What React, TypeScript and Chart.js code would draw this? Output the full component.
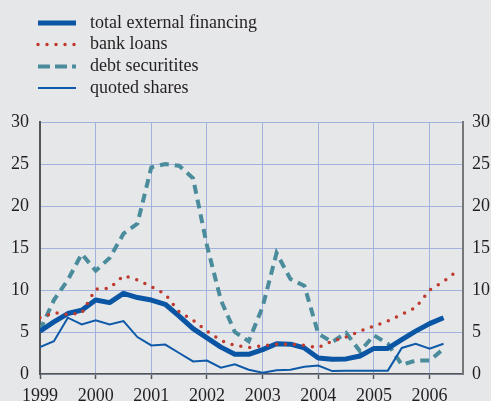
import React, { useEffect, useRef } from "react";
import { Chart, registerables } from "chart.js";

Chart.register(...registerables);

const quarters = [
  "1999Q1", "1999Q2", "1999Q3", "1999Q4",
  "2000Q1", "2000Q2", "2000Q3", "2000Q4",
  "2001Q1", "2001Q2", "2001Q3", "2001Q4",
  "2002Q1", "2002Q2", "2002Q3", "2002Q4",
  "2003Q1", "2003Q2", "2003Q3", "2003Q4",
  "2004Q1", "2004Q2", "2004Q3", "2004Q4",
  "2005Q1", "2005Q2", "2005Q3", "2005Q4",
  "2006Q1", "2006Q2", "2006Q3",
];

const totalExternal = [5.1, 6.2, 7.2, 7.6, 8.8, 8.5, 9.6, 9.1, 8.8, 8.3, 6.9, 5.4, 4.3, 3.2, 2.35, 2.35, 2.9, 3.6, 3.55, 3.1, 1.9, 1.75, 1.8, 2.15, 3.05, 3.05, 4.1, 5.1, 6.0, 6.7];
const bankLoans = [6.7, 7.3, 7.1, 7.25, 10.1, 10.2, 11.7, 11.2, 10.4, 9.5, 7.4, 6.4, 5.1, 4.0, 3.4, 3.15, 3.35, 3.55, 3.55, 3.4, 3.15, 3.9, 4.4, 5.1, 5.7, 6.3, 7.1, 7.9, 10.0, 11.0, 12.3];
const debtSecurities = [5.2, 8.8, 11.2, 14.3, 12.3, 13.8, 16.7, 17.9, 24.6, 25.0, 24.8, 23.3, 15.3, 8.8, 5.0, 3.9, 8.0, 14.4, 11.3, 10.5, 4.8, 3.8, 4.9, 2.7, 4.6, 3.6, 1.1, 1.6, 1.6, 3.0];
const quotedShares = [3.2, 3.9, 6.7, 5.9, 6.4, 5.9, 6.3, 4.4, 3.4, 3.5, 2.5, 1.5, 1.6, 0.75, 1.15, 0.5, 0.15, 0.45, 0.5, 0.85, 1.0, 0.35, 0.4, 0.4, 0.4, 0.4, 3.1, 3.6, 3.0, 3.6];

const yearTicks = [1999, 2000, 2001, 2002, 2003, 2004, 2005, 2006];
const yTicks = [0, 5, 10, 15, 20, 25, 30];

const seriesLabels = ["total external financing", "bank loans", "debt securitites", "quoted shares"];

const FONT = "'Liberation Serif', 'Times New Roman', serif";
const TEXT = "#231F20";
const BG = "#E6E7E9";
const GRID = "#A3B2DD";
const AXIS = "#555555";

function qx(q: string): number {
  return parseInt(q.slice(0, 4), 10) + (parseInt(q.slice(5), 10) - 1) / 4;
}

function toPoints(values: number[]) {
  return values.map((v, i) => ({ x: qx(quarters[i]), y: v }));
}

const legendPlugin = {
  id: "customLegend",
  afterDraw(chart: any) {
    const ctx = chart.ctx;
    const rows = [23, 44.5, 66.5, 88];
    const x0 = 38;
    const x1 = 76;
    ctx.save();
    chart.data.datasets.forEach((ds: any, i: number) => {
      const y = rows[i];
      ctx.beginPath();
      ctx.strokeStyle = ds.borderColor;
      ctx.lineWidth = ds.borderWidth;
      ctx.lineCap = ds.borderCapStyle || "butt";
      ctx.setLineDash(ds.legendDash || ds.borderDash || []);
      ctx.moveTo(x0, y);
      ctx.lineTo(x1, y);
      ctx.stroke();
      ctx.setLineDash([]);
      ctx.fillStyle = TEXT;
      ctx.font = `18px ${FONT}`;
      ctx.textBaseline = "middle";
      ctx.textAlign = "left";
      ctx.fillText(ds.label, 90, y);
    });
    ctx.restore();
  },
};

export default function App() {
  const canvasRef = useRef<HTMLCanvasElement | null>(null);

  useEffect(() => {
    if (!canvasRef.current) return;
    const chart = new Chart(canvasRef.current, {
      type: "line",
      data: {
        datasets: [
          {
            label: seriesLabels[0],
            data: toPoints(totalExternal),
            borderColor: "#0B56A4",
            borderWidth: 5,
            borderJoinStyle: "round",
            pointRadius: 0,
            order: 1,
          } as any,
          {
            label: seriesLabels[1],
            data: toPoints(bankLoans),
            borderColor: "#BF3A2E",
            borderWidth: 3.5,
            borderDash: [0, 9],
            borderCapStyle: "round",
            pointRadius: 0,
            order: 0,
          } as any,
          {
            label: seriesLabels[2],
            data: toPoints(debtSecurities),
            borderColor: "#4A8C9C",
            borderWidth: 4,
            borderDash: [9, 6],
            legendDash: [12, 5],
            pointRadius: 0,
            order: 3,
          } as any,
          {
            label: seriesLabels[3],
            data: toPoints(quotedShares),
            borderColor: "#0E5AA8",
            borderWidth: 2,
            pointRadius: 0,
            order: 2,
          } as any,
        ],
      },
      options: {
        animation: false,
        responsive: true,
        maintainAspectRatio: false,
        layout: { padding: { top: 122, left: 0, right: 0, bottom: 0 } },
        plugins: {
          legend: { display: false },
          tooltip: { enabled: false },
        },
        scales: {
          x: {
            type: "linear",
            min: 1999,
            max: 2006.6,
            afterBuildTicks: (scale: any) => {
              scale.ticks = yearTicks.map((v) => ({ value: v }));
            },
            afterFit: (scale: any) => {
              scale.height = 27;
            },
            ticks: {
              callback: (v: any) => String(v),
              font: { family: FONT, size: 18 },
              color: TEXT,
              padding: 6,
              maxRotation: 0,
              autoSkip: false,
            },
            grid: {
              color: GRID,
              lineWidth: 1,
              drawTicks: true,
              tickLength: 5,
              tickColor: AXIS,
              tickWidth: 1.5,
            },
            border: { color: AXIS, width: 1.5 },
          },
          y: {
            type: "linear",
            position: "left",
            min: 0,
            max: 30,
            afterBuildTicks: (scale: any) => {
              scale.ticks = yTicks.map((v) => ({ value: v }));
            },
            afterFit: (scale: any) => {
              scale.width = 40;
            },
            ticks: {
              font: { family: FONT, size: 18 },
              color: TEXT,
              padding: 11,
            },
            grid: { color: GRID, lineWidth: 1, drawTicks: false },
            border: { color: AXIS, width: 2 },
          },
          y2: {
            type: "linear",
            position: "right",
            min: 0,
            max: 30,
            afterBuildTicks: (scale: any) => {
              scale.ticks = yTicks.map((v) => ({ value: v }));
            },
            afterFit: (scale: any) => {
              scale.width = 28;
            },
            ticks: {
              font: { family: FONT, size: 18 },
              color: TEXT,
              padding: 9,
            },
            grid: { drawOnChartArea: false, drawTicks: false },
            border: { color: "#777777", width: 2 },
          },
        },
      } as any,
      plugins: [legendPlugin],
    });
    return () => chart.destroy();
  }, []);

  return (
    <div
      style={{
        position: "fixed",
        left: 0,
        top: 0,
        width: 491,
        height: 401,
        background: BG,
        overflow: "hidden",
      }}
    >
      <canvas ref={canvasRef} />
    </div>
  );
}
